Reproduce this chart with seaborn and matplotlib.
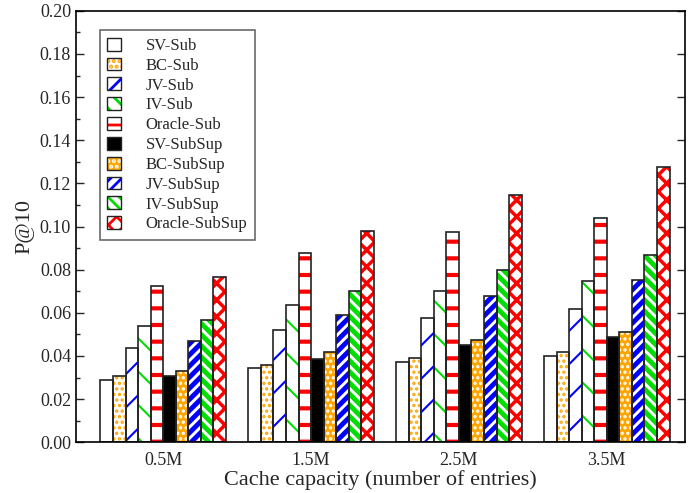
import matplotlib
matplotlib.use("Agg")
import matplotlib.pyplot as plt
import numpy as np
import pandas as pd
import seaborn as sns
from matplotlib.legend_handler import HandlerTuple
from matplotlib.patches import Patch
from matplotlib.ticker import MultipleLocator

# ── Dados ──────────────────────────────────────────────────────
capacidades = ["0.5M", "1.5M", "2.5M", "3.5M"]
metodos = ["SV-Sub", "BC-Sub", "JV-Sub", "IV-Sub", "Oracle-Sub",
           "SV-SubSup", "BC-SubSup", "JV-SubSup", "IV-SubSup", "Oracle-SubSup"]

sv_sub = [0.0288, 0.0343, 0.0372, 0.0400]
bc_sub = [0.0306, 0.0358, 0.0390, 0.0416]
jv_sub = [0.0438, 0.0520, 0.0578, 0.0618]
iv_sub = [0.0540, 0.0638, 0.0703, 0.0747]
oracle_sub = [0.0724, 0.0877, 0.0976, 0.1040]
sv_subsup = [0.0305, 0.0385, 0.0452, 0.0489]
bc_subsup = [0.0332, 0.0420, 0.0472, 0.0512]
jv_subsup = [0.0468, 0.0588, 0.0680, 0.0752]
iv_subsup = [0.0566, 0.0700, 0.0798, 0.0870]
oracle_subsup = [0.0766, 0.0980, 0.1148, 0.1274]

valores = [sv_sub, bc_sub, jv_sub, iv_sub, oracle_sub,
           sv_subsup, bc_subsup, jv_subsup, iv_subsup, oracle_subsup]

# estilo de cada série: (cor de fundo, cor da hachura, hachura, espessura)
estilos = [
    ("white", "white", "", 1.0),
    ("white", "#ffa500", "...", 1.6),
    ("white", "#0000ff", "/", 1.5),
    ("white", "#00dd00", "\\", 1.5),
    ("white", "#ff0000", "-", 3.0),
    ("black", "black", "", 1.0),
    ("#ffa500", "white", "...", 1.6),
    ("white", "#0000ff", "///", 3.5),
    ("white", "#00dd00", "\\\\\\", 3.5),
    ("white", "#ff0000", "xx", 2.5),
]

df = pd.DataFrame({
    "capacidade": np.repeat([capacidades], len(metodos), axis=0).ravel(),
    "metodo": np.repeat(metodos, len(capacidades)),
    "p10": np.concatenate(valores),
})

sns.set_theme(style="ticks")
plt.rcParams["font.family"] = ["Liberation Serif", "DejaVu Serif"]
plt.rcParams["hatch.linewidth"] = 2.0


def aplicar_hachura(patch, fc, hc, hatch, lw):
    patch.set_facecolor(fc)
    patch.set_edgecolor(hc)
    patch.set_hatch(hatch)
    patch.set_linewidth(0)
    if hasattr(patch, "set_hatch_linewidth"):
        patch.set_hatch_linewidth(lw)
    else:
        patch._hatch_linewidth = lw


fig, ax = plt.subplots(figsize=(6.97, 4.93), dpi=100)
fig.subplots_adjust(left=0.109, right=0.983, bottom=0.103, top=0.978)

# camada com preenchimento + hachura
sns.barplot(data=df, x="capacidade", y="p10", hue="metodo", hue_order=metodos,
            order=capacidades, width=0.85, errorbar=None, ax=ax,
            linewidth=0, legend=False)
for cont, est in zip(ax.containers, estilos):
    for bar in cont:
        aplicar_hachura(bar, *est)

# contorno por cima
n = len(ax.containers)
sns.barplot(data=df, x="capacidade", y="p10", hue="metodo", hue_order=metodos,
            order=capacidades, width=0.85, errorbar=None, ax=ax,
            fill=False, legend=False)
for cont in ax.containers[n:]:
    for bar in cont:
        bar.set_edgecolor("#222222")
        bar.set_linewidth(1.2)
        bar.set_facecolor("none")
        bar.set_hatch("")

# legenda manual com os mesmos estilos
handles = []
for fc, hc, hatch, lw in estilos:
    base = Patch(facecolor=fc, edgecolor=hc, hatch=hatch, linewidth=0)
    aplicar_hachura(base, fc, hc, hatch.replace("\\", "\\\\")[:2] if hatch == "\\" else hatch,
                    min(lw, 2.0))
    contorno = Patch(facecolor="none", edgecolor="#222222", linewidth=1.0)
    handles.append((base, contorno))
leg = ax.legend(handles=handles, labels=metodos, loc="upper left",
                bbox_to_anchor=(0.039, 0.955),
                handler_map={tuple: HandlerTuple(ndivide=1, pad=0)},
                fontsize=12, frameon=True, fancybox=False, handlelength=0.8,
                handleheight=0.8, handletextpad=1.5, labelspacing=0.22,
                borderpad=0.45, borderaxespad=0.0)
leg.get_frame().set_edgecolor("#444444")
leg.get_frame().set_linewidth(1.2)

ax.set_ylim(0, 0.20)
ax.set_xlim(-0.59, 3.53)
ax.yaxis.set_major_locator(MultipleLocator(0.02))
ax.yaxis.set_minor_locator(MultipleLocator(0.01))
ax.yaxis.set_major_formatter(plt.FormatStrFormatter("%.2f"))
ax.tick_params(axis="y", direction="in", which="major", length=6, width=1,
               right=True, labelsize=13)
ax.tick_params(axis="y", direction="in", which="minor", length=3, width=1,
               right=False)
ax.tick_params(axis="x", length=0, labelsize=13, pad=7)
for s in ax.spines.values():
    s.set_visible(True)
    s.set_linewidth(1.2)
    s.set_color("black")

ax.set_xlabel("Cache capacity (number of entries)", fontsize=16, labelpad=1)
ax.set_ylabel("P@10", fontsize=16, labelpad=4)

fig.savefig("out.png", dpi=100)
